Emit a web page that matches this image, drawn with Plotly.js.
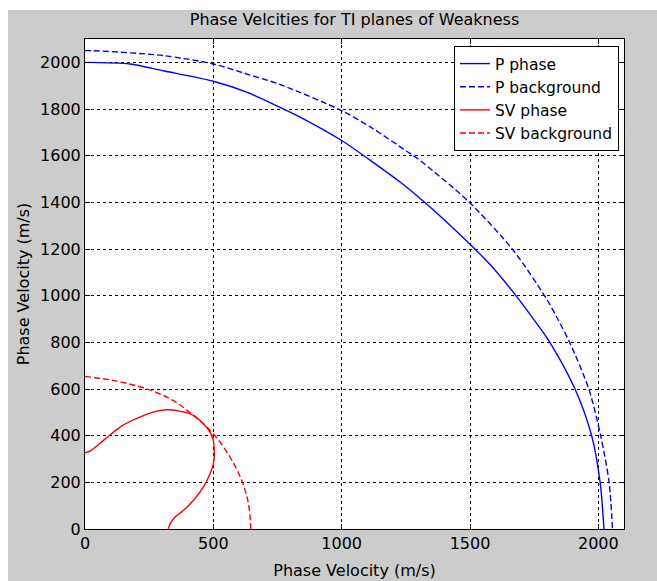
<!DOCTYPE html>
<html>
<head>
<meta charset="utf-8">
<script src="https://cdn.plot.ly/plotly-3.0.1.min.js"></script>
<style>
html,body{margin:0;padding:0;background:#ffffff;width:657px;height:581px;overflow:hidden;}
#chart{position:absolute;left:8px;top:10px;width:649px;height:571px;}
</style>
</head>
<body>
<div id="chart"></div>
<script>
// P phase (solid blue)
var pPhaseX = [0, 175, 305, 500, 630, 760, 851, 1000, 1113, 1229, 1315, 1365, 1510, 1581, 1679, 1751, 1811, 1909, 1974, 2007, 2022];
var pPhaseY = [2000, 1993, 1964, 1919, 1872, 1807, 1758, 1665, 1579, 1486, 1408, 1360, 1210, 1130, 1000, 894, 800, 600, 400, 200, 0];
// P background (dashed blue)
var pBackX = [0, 31, 305, 500, 630, 760, 1000, 1113, 1255, 1295, 1490, 1666, 1796, 1841, 1889, 1963, 2009, 2042, 2055];
var pBackY = [2050, 2050, 2029, 1993, 1950, 1905, 1793, 1722, 1618, 1588, 1408, 1198, 990, 902, 798, 600, 400, 200, 0];
// SV phase (solid red)
var svPhaseX = [0, 23, 56, 95, 147, 213, 265, 317, 369, 422, 461, 487, 500, 504, 500, 487, 461, 422, 383, 350, 333, 324];
var svPhaseY = [326, 336, 365, 401, 444, 479, 501, 511, 505, 487, 451, 415, 379, 322, 279, 236, 179, 122, 79, 50, 25, 0];
// SV background (dashed red)
var svBackX = [0, 108, 239, 343, 422, 500, 565, 611, 637, 646];
var svBackY = [654, 637, 601, 551, 487, 408, 308, 207, 107, 0];

var seriesNames = ["P phase", "P background", "SV phase", "SV background"];
var titleText = "Phase Velcities for TI planes of Weakness";
var xLabel = "Phase Velocity (m/s)";
var yLabel = "Phase Velocity (m/s)";

var font = "DejaVu Sans, Arial, sans-serif";

var traces = [
  {x: pPhaseX, y: pPhaseY, name: seriesNames[0], mode: "lines", line: {color: "#0000ff", width: 1.4, shape: "spline", smoothing: 0.8}},
  {x: pBackX, y: pBackY, name: seriesNames[1], mode: "lines", line: {color: "#0000ff", width: 1.4, dash: "6px,3px", shape: "spline", smoothing: 0.8}},
  {x: svPhaseX, y: svPhaseY, name: seriesNames[2], mode: "lines", line: {color: "#ff0000", width: 1.4, shape: "spline"}},
  {x: svBackX, y: svBackY, name: seriesNames[3], mode: "lines", line: {color: "#ff0000", width: 1.4, dash: "6px,3px", shape: "spline"}}
];

var axisCommon = {
  showline: true, linecolor: "#000000", linewidth: 1, mirror: "ticks",
  ticks: "inside", ticklen: 5, tickcolor: "#000000", tickwidth: 1,
  showgrid: true, gridcolor: "#000000", gridwidth: 1, griddash: "3px,3px",
  zeroline: false,
  tickfont: {family: font, size: 16, color: "#000000"}
};

var layout = {
  width: 649, height: 571,
  paper_bgcolor: "#cccccc", plot_bgcolor: "#ffffff",
  margin: {l: 77, r: 33, t: 29, b: 52, pad: 0},
  showlegend: true,
  title: {text: titleText, font: {family: font, size: 16, color: "#000000"},
          xref: "paper", x: 0.5, xanchor: "center", yref: "container", y: 0.984, yanchor: "middle"},
  xaxis: Object.assign({}, axisCommon, {
    range: [0, 2100], tickvals: [0, 500, 1000, 1500, 2000],
    title: {text: xLabel, font: {family: font, size: 16, color: "#000000"}, standoff: 12}
  }),
  yaxis: Object.assign({}, axisCommon, {
    range: [0, 2100], tickvals: [0, 200, 400, 600, 800, 1000, 1200, 1400, 1600, 1800, 2000],
    title: {text: yLabel, font: {family: font, size: 16, color: "#000000"}, standoff: 6}
  }),
  legend: {
    x: 0.9907, y: 0.9857, xanchor: "right", yanchor: "top",
    bgcolor: "#ffffff", bordercolor: "#000000", borderwidth: 1,
    font: {family: font, size: 15.5, color: "#000000"}
  }
};

Plotly.newPlot("chart", traces, layout, {displayModeBar: false, staticPlot: true});
</script>
</body>
</html>
